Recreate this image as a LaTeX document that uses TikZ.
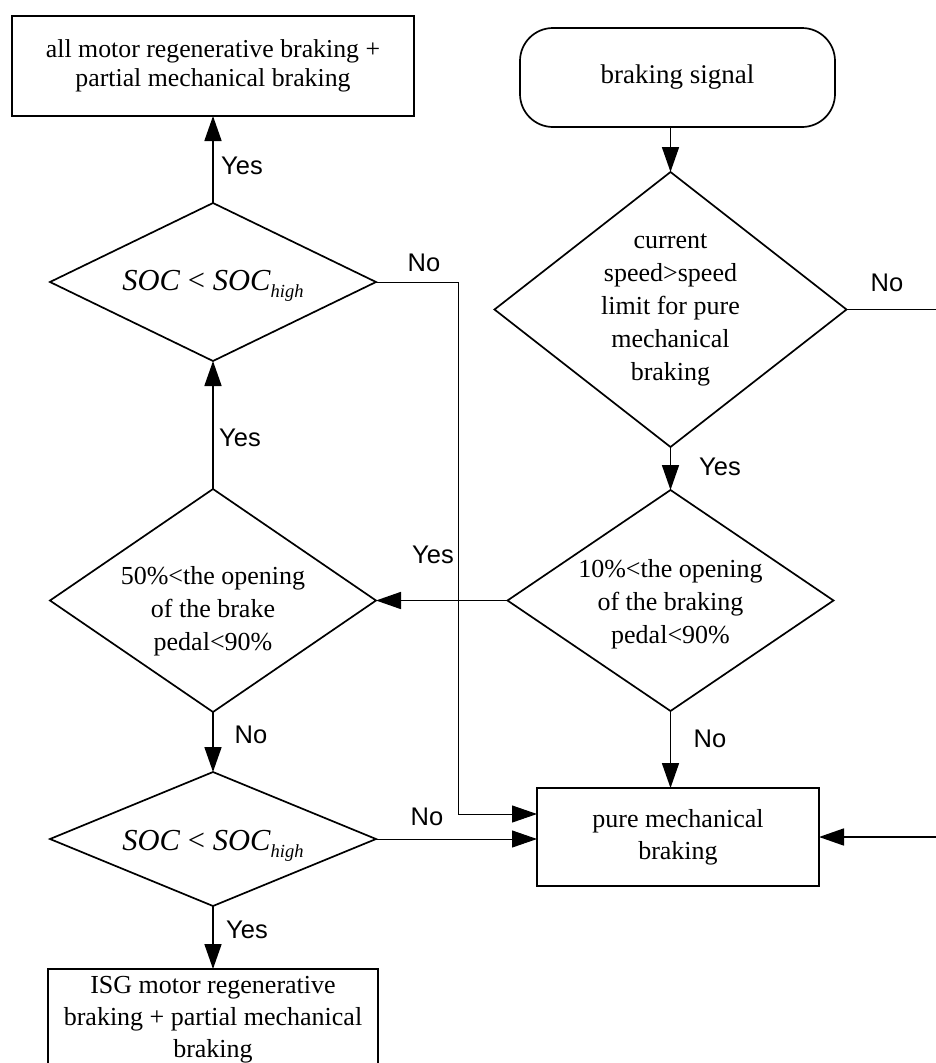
\documentclass[tikz,border=0pt]{standalone}
\usepackage{fontspec}
\setmainfont{Liberation Serif}
\newfontfamily\lsans{Liberation Sans}
\usetikzlibrary{arrows.meta,shapes.geometric}
\begin{document}
\begin{tikzpicture}[x=1pt,y=-1pt,
  lw/.style={line width=1.7pt},
  arr/.style={lw,-{Triangle[length=25pt,width=17pt]}},
  thinarr/.style={line width=1pt,-{Triangle[length=25pt,width=17pt]}},
  box/.style={draw,lw,rectangle,inner sep=0pt,outer sep=0pt,align=center,font=\fontsize{26}{32}\selectfont},
  dia/.style={draw,lw,diamond,inner sep=0pt,outer sep=0pt},
  txt/.style={align=center,font=\fontsize{26}{33}\selectfont,inner sep=0pt},
  mth/.style={font=\fontsize{30.5}{30}\selectfont,inner sep=0pt,anchor=base},
  lab/.style={font=\lsans\fontsize{25.5}{25}\selectfont,inner sep=0pt},
  ]
\useasboundingbox (0,0) rectangle (936,1063);
% boxes
\node[box,minimum width=402pt,minimum height=100pt,font=\fontsize{25.8}{29}\selectfont] (top) at (213,66)
  {all motor regenerative braking +\\partial mechanical braking};
\node[box,rounded corners=33pt,minimum width=315pt,minimum height=99pt,font=\fontsize{27}{32}\selectfont] (start) at (677.5,77.5) {braking signal};
\node[box,minimum width=282pt,minimum height=98pt] (pm) at (678,837) {pure mechanical\\braking};
\node[box,minimum width=330pt,minimum height=101pt] (isg) at (213,1019.5)
  {ISG motor regenerative\\braking + partial mechanical\\braking};
% diamonds
\node[dia,minimum width=352pt,minimum height=275pt] (d1) at (670.5,309.5) {};
\node[txt] (d1t) at (670.5,310) {current\\speed>speed\\limit for pure\\mechanical\\braking};
\node[dia,minimum width=326pt,minimum height=221pt] (d2) at (670.5,600.5) {};
\node[txt] (d2t) at (670.5,604) {10\%<the opening\\of the braking\\pedal<90\%};
\node[dia,minimum width=326pt,minimum height=223pt] (d3) at (213,600.5) {};
\node[txt] (d3t) at (213,611) {50\%<the opening\\of the brake\\pedal<90\%};
\node[dia,minimum width=326pt,minimum height=158pt] (s1) at (213,282) {};
\node[mth] (s1t) at (213,290) {\textit{SOC} < \textit{SOC}\raisebox{-7pt}{\fontsize{18.5}{18}\selectfont\textit{high}}};
\node[dia,minimum width=326pt,minimum height=134pt] (s2) at (213,839) {};
\node[mth] (s2t) at (213,850) {\textit{SOC} < \textit{SOC}\raisebox{-7pt}{\fontsize{18.5}{18}\selectfont\textit{high}}};
% connectors
\coordinate (rt) at (950,309.5);
\coordinate (j1) at (458,282);
\draw[arr] (start.south -| d1.north) -- (d1.north);
\draw[arr] (d1.south) -- (d2.north);
\draw[arr] (d1.east) -- (rt) |- (pm.east);
\draw[arr] (d2.west) -- (d3.east);
\draw[arr] (d2.south) -- (d2.south |- pm.north);
\draw[arr] (d3.north) -- (s1.south);
\draw[arr] (s1.north) -- (top.south);
\draw[thinarr] (s1.east) -- (j1) |- ([yshift=23pt]pm.west);
\draw[arr] (d3.south) -- (s2.north);
\draw[thinarr] (s2.east) -- (s2.east -| pm.west);
\draw[arr] (s2.south) -- (isg.north);
% labels
\node[lab] (l1) at (242,166) {Yes};
\node[lab] (l2) at (240,438) {Yes};
\node[lab] (l3) at (720,467) {Yes};
\node[lab] (l4) at (433,555) {Yes};
\node[lab] (l5) at (247,930) {Yes};
\node[lab] (l6) at (424,263) {No};
\node[lab] (l7) at (887,283) {No};
\node[lab] (l8) at (251,735) {No};
\node[lab] (l9) at (710,739) {No};
\node[lab] (l10) at (427,817) {No};
\end{tikzpicture}
\end{document}
